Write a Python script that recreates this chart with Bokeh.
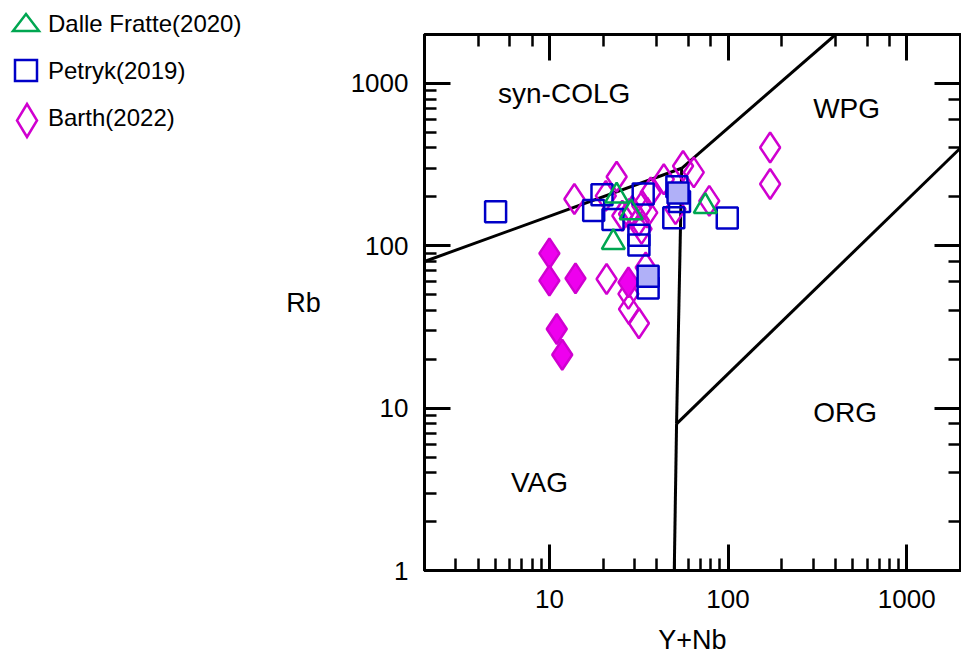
from bokeh.plotting import figure
from bokeh.layouts import row
from bokeh.models import LogAxis, Label, LogTickFormatter, Range1d, Div
from bokeh.embed import file_html
from bokeh.resources import INLINE

# ---------------- data ----------------
dalle_x = [23.8, 22.8, 74.6, 28.7]
dalle_y = [203, 105, 175, 160]

petryk_x = [5.0, 17.7, 19.7, 22.7, 33.5, 31.7, 31.7, 49.7, 51.7, 53.5, 99.0, 35.7]
petryk_y = [162, 165, 206, 145, 208, 116, 101, 149, 231, 187, 148, 55]
petryk_fill_x = [52.5, 35.7]
petryk_fill_y = [211, 65]

barth_x = [13.8, 23.8, 20.7, 25.6, 29.1, 33.1, 31.7, 35.3, 36.9, 32.8, 27.9, 43.7,
           56.0, 64.3, 50.8, 78.5, 20.9, 34.6, 27.7, 27.9, 31.7, 172, 172]
barth_y = [194, 266, 203, 153, 164, 176, 143, 160, 213, 127, 157, 257,
           310, 283, 168, 189, 62.4, 73.5, 50.5, 40.7, 33.3, 240, 403]
barth_fill_x = [10.0, 10.0, 14.0, 11.0, 11.8, 27.7]
barth_fill_y = [89.7, 61, 63, 30.7, 21.3, 59.5]

bound_x = [[2, 55], [55, 400], [55, 51.5], [51.5, 50], [51.5, 2000]]
bound_y = [[80, 300], [300, 2000], [300, 8], [8, 1], [8, 400]]

field_names = ["syn-COLG", "WPG", "VAG", "ORG"]
field_x = [12.1, 461, 8.8, 452]
field_y = [861, 697, 3.48, 9.4]

series_labels = ["Dalle Fratte(2020)", "Petryk(2019)", "Barth(2022)"]

FONT = "Liberation Sans"
GREEN = "#00a651"
BLUE = "#0000c8"
MAG = "#d000d0"

# ---------------- main diagram ----------------
p = figure(width=681, height=658, x_axis_type="log", y_axis_type="log",
           x_range=Range1d(2, 2000), y_range=Range1d(1, 2000),
           output_backend="svg", toolbar_location=None,
           min_border_left=144, min_border_right=1, min_border_top=34, min_border_bottom=88)
p.grid.visible = False
p.outline_line_color = "black"
p.outline_line_width = 3
p.background_fill_color = "white"
p.border_fill_color = "white"

p.add_layout(LogAxis(), "above")
p.add_layout(LogAxis(), "right")

for ax in p.axis:
    ax.axis_line_width = 3
    ax.axis_line_color = "black"
    ax.major_tick_in = 26
    ax.major_tick_out = 0
    ax.minor_tick_in = 12
    ax.minor_tick_out = 0
    ax.major_tick_line_width = 3
    ax.minor_tick_line_width = 2.5
    ax.formatter = LogTickFormatter(min_exponent=4)
    ax.major_label_text_font = FONT
    ax.major_label_text_font_size = "26px"
    ax.major_label_text_color = "black"

for ax in [p.above[0], p.right[0]]:
    ax.major_label_text_font_size = "1px"
    ax.major_label_text_color = None
    ax.major_label_standoff = 0

yax = p.left[0]
xax = p.below[0]
yax.major_label_standoff = 16
xax.major_label_standoff = 19
for ax, title in [(xax, "Y+Nb"), (yax, "Rb")]:
    ax.axis_label = title
    ax.axis_label_text_font = FONT
    ax.axis_label_text_font_size = "27px"
    ax.axis_label_text_font_style = "normal"
    ax.axis_label_text_color = "black"
xax.axis_label_standoff = 14
yax.axis_label_standoff = 27
if "axis_label_orientation" in yax.properties():
    yax.axis_label_orientation = "horizontal"

# boundaries
p.multi_line(bound_x, bound_y, line_color="black", line_width=3)

# data points
p.scatter(barth_x, barth_y, marker="diamond", size=30, fill_color=None,
          line_color=MAG, line_width=2.5)
p.scatter(barth_fill_x, barth_fill_y, marker="diamond", size=30, fill_color="#ee00ee",
          line_color=MAG, line_width=2.5)
p.scatter(petryk_x, petryk_y, marker="square", size=21, fill_color=None,
          line_color=BLUE, line_width=2.5)
p.scatter(dalle_x, dalle_y, marker="triangle", size=23, fill_color=None,
          line_color=GREEN, line_width=2.5)
p.scatter(petryk_fill_x, petryk_fill_y, marker="square", size=21, fill_color="#b0b0f8",
          line_color=BLUE, line_width=2.5)

for name, fx, fy in zip(field_names, field_x, field_y):
    p.add_layout(Label(x=fx, y=fy, text=name, text_align="center", text_baseline="middle",
                       text_font=FONT, text_font_size="28px", text_color="black"))

# ---------------- legend (key symbols + real text) ----------------
keys = [
    f'<polygon points="13,31 26,14 39,31" fill="none" stroke="{GREEN}" stroke-width="2.5"/>',
    f'<rect x="15" y="60" width="22" height="21" fill="none" stroke="{BLUE}" stroke-width="2.5"/>',
    f'<polygon points="27,104 37,120.5 27,137 17,120.5" fill="none" stroke="{MAG}" stroke-width="2.5"/>',
]
baselines = [32, 79, 126]
parts = []
for k, lab, b in zip(keys, series_labels, baselines):
    parts.append(k)
    parts.append(f'<text x="48" y="{b}" font-family="{FONT}" font-size="24px" fill="black">{lab}</text>')
svg = ('<svg xmlns="http://www.w3.org/2000/svg" width="280" height="160" '
       'style="display:block">' + "".join(parts) + '</svg>')
legend_div = Div(text=svg, width=280, height=658, styles={"margin": "0", "padding": "0"})

layout = row(legend_div, p, spacing=0)
open("out.html", "w").write(file_html(layout, INLINE))
